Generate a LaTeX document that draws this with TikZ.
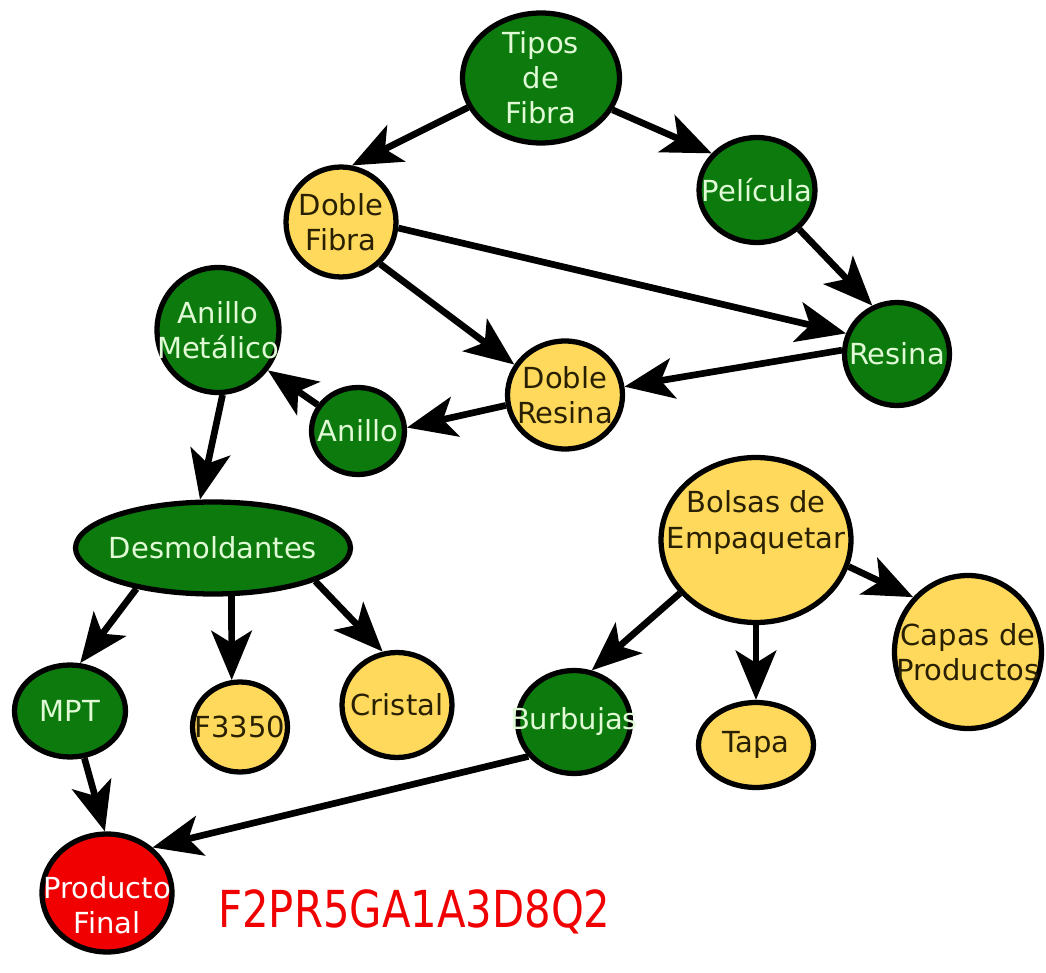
\documentclass[tikz,border=0pt]{standalone}
\usepackage{fontspec}
\setmainfont{DejaVu Sans}
\usetikzlibrary{shapes.geometric,arrows.meta}
\definecolor{leafgreen}{RGB}{12,122,12}
\definecolor{paleyellow}{RGB}{255,217,92}
\definecolor{alertred}{RGB}{240,0,0}
\definecolor{lighttext}{RGB}{224,250,214}
\definecolor{darktext}{RGB}{40,32,0}
\tikzset{
  bub/.style={ellipse, draw=black, line width=3pt, inner sep=0pt},
  gbub/.style={bub, fill=leafgreen},
  ybub/.style={bub, fill=paleyellow},
  rbub/.style={bub, fill=alertred},
  gtxt/.style={text=lighttext, align=center, font=\fontsize{16.5}{20}\selectfont},
  ytxt/.style={text=darktext, align=center, font=\fontsize{16.5}{20}\selectfont},
  arr/.style={-{Stealth[length=28pt,width=23pt,inset=7pt]}, line width=3.8pt}
}
\begin{document}
\begin{tikzpicture}[x=0.02cm,y=-0.02cm]
\useasboundingbox (0,0) rectangle (1046,973);
% top part
\node [gbub, minimum width=3.14cm, minimum height=2.6cm, label={[gtxt]center:Tipos\\de\\Fibra}] (tipos) at (541,78) {};
\node [gbub, minimum width=2.32cm, minimum height=2.1cm, label={[gtxt]center:Película}] (pelicula) at (757,190) {};
\node [ybub, minimum width=2.2cm, minimum height=2.2cm, label={[ytxt]center:Doble\\Fibra}] (doblefibra) at (341,222) {};
\node [gbub, minimum width=2.1cm, minimum height=2.06cm, label={[gtxt]center:Resina}] (resina) at (897,354) {};
\node [gbub, minimum width=2.44cm, minimum height=2.5cm, label={[gtxt]center:Anillo\\Metálico}] (anillomet) at (218,330) {};
\node [ybub, minimum width=2.3cm, minimum height=2.16cm, label={[ytxt]center:Doble\\Resina}] (dobleresina) at (565,395) {};
\node [gbub, minimum width=1.86cm, minimum height=1.74cm, label={[gtxt]center:Anillo}] (anillo) at (358,431) {};
% middle
\node [gbub, minimum width=5.5cm, minimum height=1.84cm, label={[gtxt]center:Desmoldantes}] (desmold) at (213,548) {};
\node [ybub, minimum width=3.8cm, minimum height=3.3cm, label={[ytxt, yshift=0.35cm]center:Bolsas de\\Empaquetar}] (bolsas) at (756,540) {};
\node [ybub, minimum width=2.94cm, minimum height=3.06cm, label={[ytxt]center:Capas de\\Productos}] (capas) at (968,652) {};
% bottom
\node [gbub, minimum width=2.22cm, minimum height=1.84cm, label={[gtxt]center:MPT}] (mpt) at (70,711) {};
\node [ybub, minimum width=1.9cm, minimum height=1.8cm, label={[ytxt]center:F3350}] (f3350) at (240,727) {};
\node [ybub, minimum width=2.2cm, minimum height=2.1cm, label={[ytxt]center:Cristal}] (cristal) at (397,705) {};
\node [gbub, minimum width=2.26cm, minimum height=2.06cm, label={[gtxt]center:Burbujas}] (burbujas) at (574,722) {};
\node [ybub, minimum width=2.3cm, minimum height=1.7cm, label={[ytxt]center:Tapa}] (tapa) at (756,745) {};
\node [rbub, minimum width=2.6cm, minimum height=2.36cm, label={[gtxt, text=white, yshift=-0.25cm]center:Producto\\Final}] (final) at (107,893) {};
\node [anchor=west, inner sep=0pt, text=alertred, font=\fontsize{29}{32}\selectfont, xscale=0.82] (code) at (218,912) {F2PR5GA1A3D8Q2};
% arrows
\draw [arr] (tipos.202) -- (doblefibra.79);
\draw [arr] (tipos.-24) -- (pelicula.141);
\draw [arr] (doblefibra.-6) -- (resina.158);
\draw [arr] (doblefibra.-47) -- (dobleresina.149);
\draw [arr] (pelicula.-43) -- (resina.117);
\draw [arr] (resina.176) -- (dobleresina.8);
\draw [arr] (dobleresina.190) -- (anillo.4);
\draw [arr] (anillo.147) -- (anillomet.-39);
\draw [arr] (anillomet.-86) -- (desmold.105);
\draw [arr] (desmold.208) -- (mpt.78);
\draw [arr] (desmold.-69) -- (f3350.100);
\draw [arr] (desmold.-18) -- (cristal.105);
\draw [arr] (bolsas.215) -- (burbujas.71);
\draw [arr] (bolsas.south) -- (tapa.north);
\draw [arr] (bolsas.-16) -- (capas.135);
\draw [arr] (mpt.-73) -- (final.92);
\draw [arr] (burbujas.217) -- (final.45);
\end{tikzpicture}
\end{document}
